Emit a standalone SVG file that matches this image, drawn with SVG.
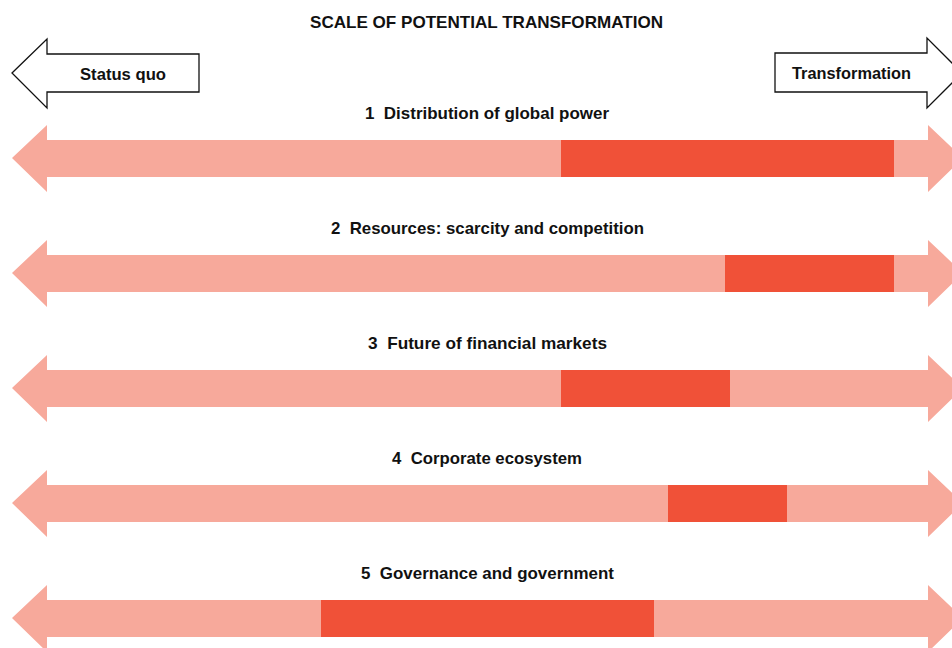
<svg xmlns="http://www.w3.org/2000/svg" width="952" height="648" viewBox="0 0 952 648">
  <style>
    .t { font-family: "Liberation Sans Narrow", "Liberation Sans", Arial, sans-serif; font-weight: bold; font-size: 17px; fill: #111; white-space: pre; }
    .title { text-anchor: start; }
    .band { fill: #F7A99B; }
    .seg { fill: #F05138; }
    .box { fill: #fff; stroke: #111; stroke-width: 1.3; }
  </style>
  <defs>
    <!-- double-headed band: left tip at x=12, right tip beyond the canvas edge -->
    <path id="band" d="M12,33 L47,0 L47,15 L928,15 L928,0 L963,33 L928,67 L928,52 L47,52 L47,67 Z"/>
  </defs>

  <text class="t" x="310" y="28" textLength="353" lengthAdjust="spacingAndGlyphs">SCALE OF POTENTIAL TRANSFORMATION</text>

  <g id="status-quo">
    <path class="box" d="M12,73 L47,39 L47,54 L199,54 L199,92 L47,92 L47,108 Z"/>
    <text class="t" x="80" y="80" textLength="86" lengthAdjust="spacingAndGlyphs">Status quo</text>
  </g>
  <g id="transformation">
    <path class="box" d="M775,53 L927,53 L927,38 L962,73 L927,108 L927,92 L775,92 Z"/>
    <text class="t" x="792" y="79" textLength="119" lengthAdjust="spacingAndGlyphs">Transformation</text>
  </g>

  <g id="row-1">
    <text class="t" x="365" y="119" textLength="244" lengthAdjust="spacingAndGlyphs">1  Distribution of global power</text>
    <use href="#band" class="band" y="125"/>
    <rect class="seg" x="561" y="140" width="333" height="37"/>
  </g>
  <g id="row-2">
    <text class="t" x="331" y="234" textLength="313" lengthAdjust="spacingAndGlyphs">2  Resources: scarcity and competition</text>
    <use href="#band" class="band" y="240"/>
    <rect class="seg" x="725" y="255" width="169" height="37"/>
  </g>
  <g id="row-3">
    <text class="t" x="368" y="349" textLength="239" lengthAdjust="spacingAndGlyphs">3  Future of financial markets</text>
    <use href="#band" class="band" y="355"/>
    <rect class="seg" x="561" y="370" width="169" height="37"/>
  </g>
  <g id="row-4">
    <text class="t" x="392" y="464" textLength="190" lengthAdjust="spacingAndGlyphs">4  Corporate ecosystem</text>
    <use href="#band" class="band" y="470"/>
    <rect class="seg" x="668" y="485" width="119" height="37"/>
  </g>
  <g id="row-5">
    <text class="t" x="361" y="579" textLength="253" lengthAdjust="spacingAndGlyphs">5  Governance and government</text>
    <use href="#band" class="band" y="585"/>
    <rect class="seg" x="321" y="600" width="333" height="37"/>
  </g>
</svg>
